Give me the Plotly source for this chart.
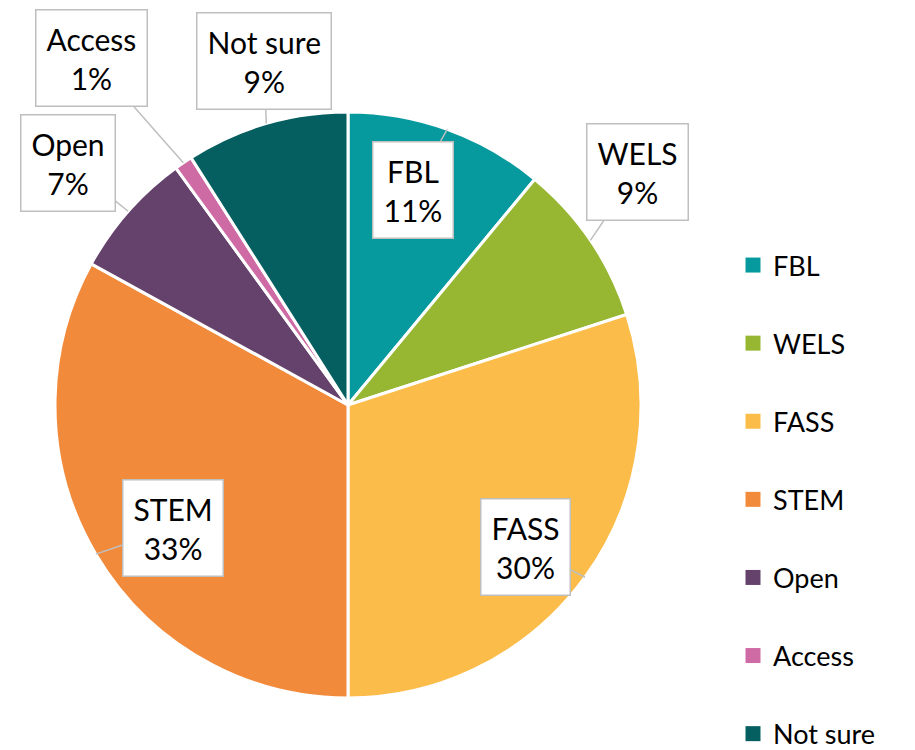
import math
import plotly.graph_objects as go

categories = ["FBL", "WELS", "FASS", "STEM", "Open", "Access", "Not sure"]
values = [11, 9, 30, 33, 7, 1, 9]
colors = ["#069A9E", "#97B733", "#FBBC4A", "#F28A3C", "#64426C", "#CE6BA4", "#055E60"]

# callout box centres (pixel positions in the page)
box_px = [(413, 190), (637, 172), (525, 547), (173, 528), (68, 163), (91, 58), (264, 61)]

OFF = 8  # default page body margin
W, H = 915 - OFF, 750 - OFF
cx, cy, r = 348 - OFF, 405 - OFF, 293
FONT = "Lato, Open Sans, sans-serif"

fig = go.Figure()
fig.add_trace(go.Pie(
    labels=categories, values=values, sort=False, direction="clockwise", rotation=0,
    marker=dict(colors=colors, line=dict(color="white", width=3)),
    textinfo="none", hoverinfo="label+percent", showlegend=False,
    domain=dict(x=[(cx - r) / W, (cx + r) / W], y=[1 - (cy + r) / H, 1 - (cy - r) / H]),
))

total = sum(values)
cum = 0
for lab, v, (bx, by) in zip(categories, values, box_px):
    bx, by = bx - OFF, by - OFF
    mid = (cum + v / 2) / total * 2 * math.pi
    cum += v
    tx = cx + r * math.sin(mid)
    ty = cy - r * math.cos(mid)
    pct = round(v / total * 100)
    fig.add_annotation(
        x=tx / W, y=1 - ty / H, xref="paper", yref="paper",
        ax=bx - tx, ay=by - ty, axref="pixel", ayref="pixel",
        text=f"{lab}<br>{pct}%", showarrow=True, arrowhead=0, arrowwidth=1.5,
        arrowcolor="#BFBFBF", standoff=0,
        bgcolor="white", bordercolor="#BFBFBF", borderwidth=1.5, borderpad=10,
        font=dict(family=FONT, size=30, color="black"), align="center",
    )

for lab, col in zip(categories, colors):
    fig.add_trace(go.Scatter(
        x=[None], y=[None], mode="markers", name=lab, legendgroup=lab,
        marker=dict(symbol="square", size=15, color=col),
    ))

fig.update_layout(
    width=W, height=H, margin=dict(l=0, r=0, t=0, b=0, autoexpand=False),
    paper_bgcolor="white", plot_bgcolor="white",
    xaxis=dict(visible=False), yaxis=dict(visible=False),
    legend=dict(x=(733 - OFF) / W, y=1 - (241 - OFF) / H, xanchor="left", yanchor="top",
                font=dict(family=FONT, size=27, color="black"),
                tracegroupgap=40, itemwidth=30),
    showlegend=True,
)

fig.write_html("out.html")
